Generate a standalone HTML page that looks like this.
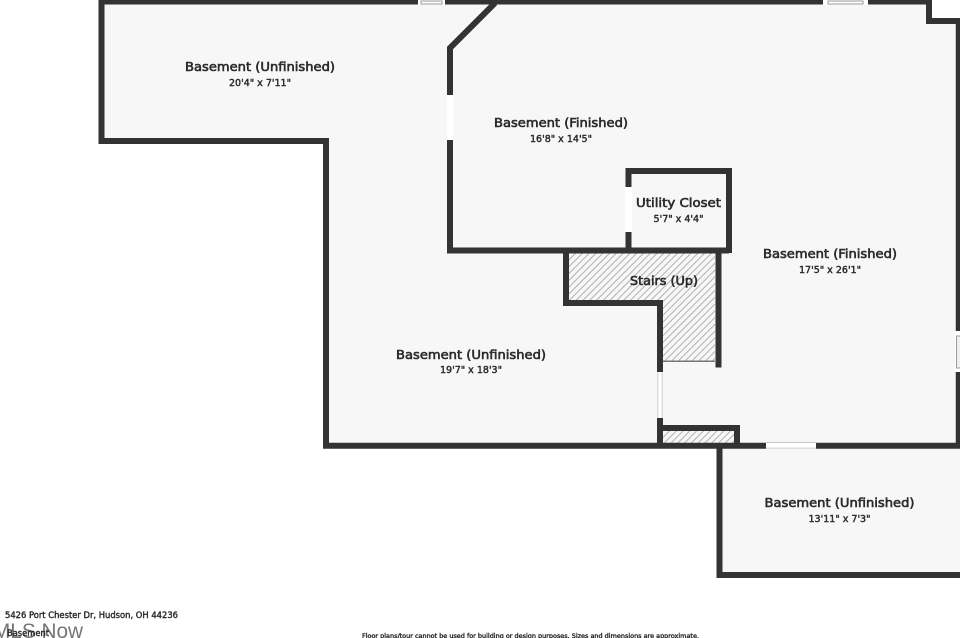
<!DOCTYPE html>
<html>
<head>
<meta charset="utf-8">
<style>
html,body{margin:0;padding:0;background:#fff;width:960px;height:638px;overflow:hidden}
svg{display:block}
text{font-family:"DejaVu Sans","Liberation Sans",sans-serif;fill:#2b2b2b}
.t{font-size:12.5px;text-anchor:middle;stroke:#2b2b2b;stroke-width:.6}
.s{font-size:10px;text-anchor:middle;stroke:#2b2b2b;stroke-width:.45}
.f{stroke:#2b2b2b;stroke-width:.4}
</style>
</head>
<body>
<svg width="960" height="638" viewBox="0 0 960 638" xmlns="http://www.w3.org/2000/svg">
<defs>
<pattern id="h" width="4.8" height="4.8" patternUnits="userSpaceOnUse" patternTransform="rotate(45)">
<rect width="4.8" height="4.8" fill="#f7f7f7"/>
<rect x="0" width="1" height="4.8" fill="#b0b0b0"/>
</pattern>
</defs>
<!-- floor -->
<polygon points="102,2 929,2 929,21 960,21 960,445 326,445 326,141 102,141" fill="#f7f7f7"/>
<rect x="720" y="445" width="240" height="130" fill="#f7f7f7"/>
<!-- hatch -->
<polygon points="569,253 715,253 715,361 663,361 663,300 569,300" fill="url(#h)"/>
<rect x="663" y="431" width="71" height="12" fill="url(#h)"/>
<g fill="none" stroke="#333333" stroke-linejoin="miter">
<!-- outer -->
<path d="M960,21 H929 V1.500 H101.500 V141 H326 V445.800 H960" stroke-width="6"/>
<path d="M958,21 V445" stroke-width="4.500"/>
<path d="M719.500,445 V575 H960" stroke-width="6"/>
<!-- inner finished room -->
<path d="M495,3 L450,48 V250.500 H729" stroke-width="6"/>
<!-- utility closet -->
<path d="M628.500,250 V171 H729 V253" stroke-width="6"/>
<!-- stairs -->
<path d="M566,250 V303 H660 V445" stroke-width="6"/>
<path d="M718.500,250 V367.500" stroke-width="6"/>
<path d="M660,428 H737 V445" stroke-width="6"/>
</g>
<rect x="663" y="360.500" width="52" height="1.500" fill="#777"/>
<!-- openings -->
<rect x="447" y="95" width="6" height="45" fill="#fff"/>
<rect x="625" y="187" width="7" height="45" fill="#fff"/>
<rect x="657" y="372" width="6" height="46" fill="#fff"/>
<rect x="657" y="372" width="1.500" height="46" fill="#ddd"/>
<rect x="661.500" y="372" width="1.500" height="46" fill="#ddd"/>
<rect x="766" y="443" width="50" height="6" fill="#fff"/>
<rect x="766" y="447.500" width="50" height="1.500" fill="#ddd"/>
<!-- windows -->
<rect x="418" y="0" width="27" height="5" fill="#fff"/>
<rect x="421" y="1" width="21" height="3" fill="#fff" stroke="#999" stroke-width="1"/>
<rect x="823" y="0" width="45" height="5" fill="#fff"/>
<rect x="828" y="1" width="35" height="3" fill="#fff" stroke="#999" stroke-width="1"/>
<rect x="955" y="331" width="5" height="41" fill="#fff"/>
<rect x="956.500" y="336" width="4" height="32" fill="#eee" stroke="#999" stroke-width="1"/>
<!-- labels -->
<text class="t" x="260" y="71" textLength="150" lengthAdjust="spacingAndGlyphs">Basement (Unfinished)</text>
<text class="s" x="260" y="86" textLength="62" lengthAdjust="spacingAndGlyphs">20'4" x 7'11"</text>
<text class="t" x="561" y="127" textLength="134" lengthAdjust="spacingAndGlyphs">Basement (Finished)</text>
<text class="s" x="561" y="142" textLength="62" lengthAdjust="spacingAndGlyphs">16'8" x 14'5"</text>
<text class="t" x="678.500" y="207" textLength="85" lengthAdjust="spacingAndGlyphs">Utility Closet</text>
<text class="s" x="678.500" y="222" textLength="50" lengthAdjust="spacingAndGlyphs">5'7" x 4'4"</text>
<text class="t" x="830" y="258" textLength="134" lengthAdjust="spacingAndGlyphs">Basement (Finished)</text>
<text class="s" x="830" y="273" textLength="62" lengthAdjust="spacingAndGlyphs">17'5" x 26'1"</text>
<text class="t" x="664" y="285" textLength="68" lengthAdjust="spacingAndGlyphs">Stairs (Up)</text>
<text class="t" x="471" y="359" textLength="150" lengthAdjust="spacingAndGlyphs">Basement (Unfinished)</text>
<text class="s" x="471" y="373" textLength="62" lengthAdjust="spacingAndGlyphs">19'7" x 18'3"</text>
<text class="t" x="839.500" y="507" textLength="150" lengthAdjust="spacingAndGlyphs">Basement (Unfinished)</text>
<text class="s" x="839.500" y="522" textLength="62" lengthAdjust="spacingAndGlyphs">13'11" x 7'3"</text>
<!-- footer -->
<text x="-7" y="638" font-size="21" style="font-family:'Liberation Sans',sans-serif;fill:#777" textLength="90" lengthAdjust="spacingAndGlyphs">MLS Now</text>
<text class="f" x="5" y="618" font-size="8.500" textLength="173" lengthAdjust="spacingAndGlyphs">5426 Port Chester Dr, Hudson, OH 44236</text>
<text class="f" x="7" y="636" font-size="8.500" textLength="42" lengthAdjust="spacingAndGlyphs">Basement</text>
<text class="f" x="362" y="638" font-size="6.500" textLength="337" lengthAdjust="spacingAndGlyphs">Floor plans/tour cannot be used for building or design purposes. Sizes and dimensions are approximate.</text>
</svg>
</body>
</html>
